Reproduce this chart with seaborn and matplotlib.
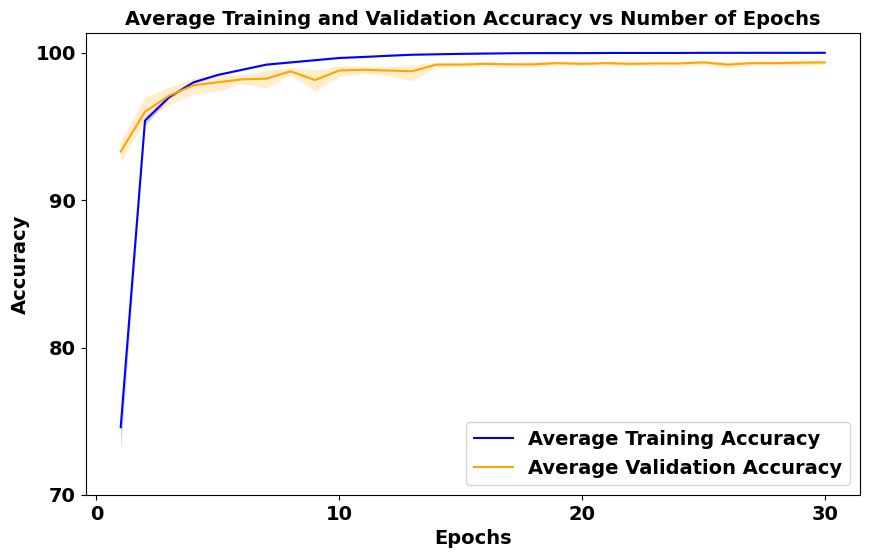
import matplotlib
matplotlib.use("Agg")
import matplotlib.pyplot as plt
from matplotlib.ticker import MultipleLocator
import pandas as pd
import seaborn as sns

epochs = list(range(1, 31))

# mean training accuracy per epoch and its band
train_mean = [74.6, 95.4, 97.0, 98.0, 98.5, 98.85, 99.2, 99.35, 99.5, 99.65,
              99.72, 99.8, 99.87, 99.9, 99.93, 99.95, 99.97, 99.98, 99.98, 99.98,
              99.99, 99.99, 99.99, 99.99, 100.0, 100.0, 100.0, 100.0, 100.0, 100.0]
train_low = [73.1, 95.1, 96.9, 97.9, 98.45, 98.8, 99.15, 99.3, 99.45, 99.6,
             99.68, 99.76, 99.84, 99.88, 99.91, 99.93, 99.95, 99.96, 99.97, 99.97,
             99.98, 99.98, 99.98, 99.98, 99.99, 99.99, 99.99, 99.99, 99.99, 99.99]
train_high = [75.0, 95.7, 97.1, 98.1, 98.55, 98.9, 99.25, 99.4, 99.55, 99.7,
              99.76, 99.84, 99.9, 99.92, 99.95, 99.97, 99.99, 100.0, 100.0, 100.0,
              100.0, 100.0, 100.0, 100.0, 100.0, 100.0, 100.0, 100.0, 100.0, 100.0]

# mean validation accuracy per epoch and its band
val_mean = [93.3, 96.0, 97.1, 97.8, 98.0, 98.2, 98.25, 98.75, 98.15, 98.8,
            98.85, 98.8, 98.75, 99.2, 99.2, 99.25, 99.22, 99.22, 99.3, 99.25,
            99.3, 99.25, 99.28, 99.28, 99.35, 99.2, 99.3, 99.3, 99.33, 99.35]
val_low = [92.6, 95.4, 96.5, 97.2, 97.4, 97.9, 97.6, 98.5, 97.4, 98.4,
           98.6, 98.45, 98.1, 99.0, 99.05, 99.1, 99.0, 99.05, 99.15, 99.1,
           99.15, 99.1, 99.15, 99.1, 99.2, 98.95, 99.15, 99.15, 99.15, 99.2]
val_high = [94.0, 97.0, 97.7, 98.3, 98.5, 98.5, 98.8, 99.0, 98.85, 99.1,
            99.1, 99.05, 99.2, 99.35, 99.35, 99.4, 99.35, 99.38, 99.45, 99.4,
            99.42, 99.38, 99.4, 99.42, 99.48, 99.38, 99.42, 99.45, 99.5, 99.5]

df = pd.DataFrame({"epoch": epochs, "train": train_mean, "val": val_mean})

plt.rcParams["font.weight"] = "bold"
plt.rcParams["axes.labelweight"] = "bold"
plt.rcParams["axes.titleweight"] = "bold"

fig, ax = plt.subplots(figsize=(8.69, 5.58), dpi=100)
fig.subplots_adjust(left=85.5 / 869, right=860 / 869, top=1 - 33 / 558, bottom=1 - 495 / 558)

sns.lineplot(data=df, x="epoch", y="train", color="blue", label="Average Training Accuracy", ax=ax)
ax.fill_between(epochs, train_low, train_high, color="blue", alpha=0.2, linewidth=0)
sns.lineplot(data=df, x="epoch", y="val", color="orange", label="Average Validation Accuracy", ax=ax)
ax.fill_between(epochs, val_low, val_high, color="orange", alpha=0.2, linewidth=0)

ax.set_ylim(bottom=70)
ax.xaxis.set_major_locator(MultipleLocator(10))
ax.yaxis.set_major_locator(MultipleLocator(10))
ax.set_xlabel("Epochs", fontsize=14, fontweight="bold")
ax.set_ylabel("Accuracy", fontsize=14, fontweight="bold")
ax.set_title("Average Training and Validation Accuracy vs Number of Epochs", fontsize=14, fontweight="bold")
ax.tick_params(labelsize=14)
ax.legend(loc="lower right", prop={"size": 14, "weight": "bold"})

fig.savefig("out.png", dpi=100)
